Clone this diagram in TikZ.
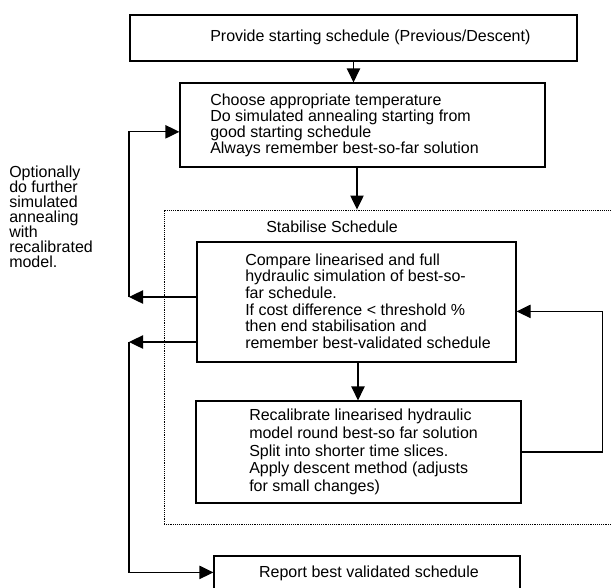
\documentclass[tikz,border=0pt]{standalone}
\usepackage{fontspec}
\setmainfont{Liberation Sans}
\usetikzlibrary{arrows.meta,fit,calc}
\begin{document}
\begin{tikzpicture}[x=0.75pt,y=-0.75pt,
  boxfit/.style={draw, line width=0.9pt, inner sep=0pt, rectangle},
  frame/.style={draw, line width=0.7pt, inner sep=0pt, rectangle, dash pattern=on 0.7pt off 0.7pt},
  arr/.style={-{Triangle[length=10.5pt,width=10pt]}, line width=0.9pt},
  txt/.style={anchor=west, align=left, inner sep=0pt, font=\fontsize{12}{12.5}\selectfont}]
\useasboundingbox (0,0) rectangle (611,587);
\clip (0,0) rectangle (611,587);
% boxes
\node[boxfit, fit={(130,15) (577,61)}] (box1) {};
\node[boxfit, fit={(180,83) (545,167)}] (box2) {};
\node[frame, fit={(164,210) (640,524)}] (stab) {};
\node[boxfit, fit={(197,242) (516,362)}] (box3) {};
\node[boxfit, fit={(196,401) (521,503)}] (box4) {};
\node[boxfit, fit={(214,556) (520,620)}] (box5) {};
% texts
\node[txt] (t1) at (210,37) {Provide starting schedule (Previous/Descent)};
\node[txt, font=\fontsize{12}{12}\selectfont] (t2) at (210,125) {Choose appropriate temperature\\Do simulated annealing starting from\\good starting schedule\\Always remember best-so-far solution};
\node[txt] (st) at (266,227) {Stabilise Schedule};
\node[txt, font=\fontsize{12}{12.5}\selectfont] (t3) at (245,301) {Compare linearised and full\\hydraulic simulation of best-so-\\far schedule.\\If cost difference < threshold \%\\then end stabilisation and\\remember best-validated schedule};
\node[txt, font=\fontsize{12}{13.2}\selectfont] (t4) at (249,452) {Recalibrate linearised hydraulic\\model round best-so far solution\\Split into shorter time slices.\\Apply descent method (adjusts\\for small changes)};
\node[inner sep=0pt, font=\fontsize{12}{12.5}\selectfont] (t5) at (369,573) {Report best validated schedule};
\node[txt, font=\fontsize{12}{11.25}\selectfont] (side) at (9,217) {Optionally\\do further\\simulated\\annealing\\with\\recalibrated\\model.};
% helper coordinates
\coordinate (xa) at (357,0);
\coordinate (xb) at (358,0);
\coordinate (L1) at (129,297);
\coordinate (L2) at (129,342);
% connectors
\draw[arr] (box1.south) -- (box1.south |- box2.north);
\draw[arr] (box2.south -| xa) -- (stab.north -| xa);
\draw[arr] (box3.south -| xb) -- (box4.north -| xb);
\draw[arr] (box3.west |- L1) -- (L1);
\draw[arr] (L1) |- ($(box2.north west)!0.58!(box2.south west)$);
\draw[arr] (box3.west |- L2) -- (L2);
\draw[arr] (L2) |- ($(box5.north west)+(0,17)$);
\draw[arr] (box4.east) -- ++(81,0) |- ($(box3.north east)+(0,70)$);
\end{tikzpicture}
\end{document}
